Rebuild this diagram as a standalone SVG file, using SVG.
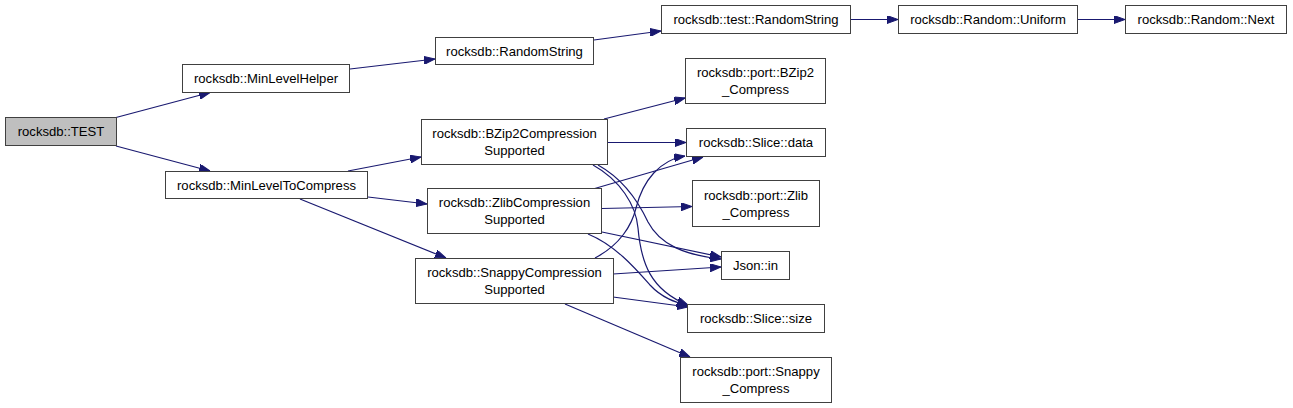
<svg xmlns="http://www.w3.org/2000/svg" width="1293" height="408" viewBox="0 0 1293 408">
<style>
.n rect{fill:#fff;stroke:#404040;stroke-width:1}
.n.f rect{fill:#bfbfbf}
.n text{font-family:"Liberation Sans",Arial,sans-serif;font-size:13.1px;fill:#000;text-anchor:middle}
.e path{fill:none;stroke:#191970;stroke-width:1.2;marker-end:url(#ah)}
</style>
<defs>
<marker id="ah" viewBox="0 0 11 8" refX="11" refY="4" markerWidth="11" markerHeight="8" markerUnits="userSpaceOnUse" orient="auto">
<path d="M0,0 L11,4 L0,8 Z" fill="#191970" stroke="#191970" stroke-width="1"/>
</marker>
</defs>
<rect width="1293" height="408" fill="#fff"/>
<g id="connectors" class="e">
<path d="M116,117.5 L210,92.5"/>
<path d="M116,146 L210,171"/>
<path d="M350,69 L435,59"/>
<path d="M594,40 L661,31"/>
<path d="M851,19.5 L898,19.5"/>
<path d="M1077,19.5 L1125,19.5"/>
<path d="M348,171 L421,157"/>
<path d="M368,197 L427,204"/>
<path d="M300,199 L446,258"/>
<path d="M604,119 L685,98"/>
<path d="M608,142.5 L686,142.5"/>
<path d="M598,165 C625,180 640,205 648,222 C660,245 685,255 721,259"/>
<path d="M593,165 C620,180 636,205 638,228 C641,262 650,290 688,305"/>
<path d="M593,189 L703,157"/>
<path d="M602,208.5 L692,206.5"/>
<path d="M602,232 L721,257"/>
<path d="M588,234 C615,245 635,268 650,285 C662,298 675,302 688,306"/>
<path d="M595,258 C620,245 632,225 636,208 C643,180 660,160 685,156"/>
<path d="M613,274 L721,267"/>
<path d="M613,297 L688,307"/>
<path d="M565,304 L690,357"/>
</g>
<g id="n_test" class="n f"><rect x="5.5" y="117.5" width="111" height="28"/><text x="61" y="136">rocksdb::TEST</text></g>
<g id="n_minlevelhelper" class="n"><rect x="182.5" y="64.5" width="167" height="28"/><text x="266" y="83">rocksdb::MinLevelHelper</text></g>
<g id="n_minleveltocompress" class="n"><rect x="165.5" y="171.5" width="202" height="27"/><text x="266.5" y="189.5">rocksdb::MinLevelToCompress</text></g>
<g id="n_randomstring" class="n"><rect x="435.5" y="37.5" width="158" height="27"/><text x="514.5" y="55.5">rocksdb::RandomString</text></g>
<g id="n_test_randomstring" class="n"><rect x="661.5" y="5.5" width="189" height="28"/><text x="756" y="24">rocksdb::test::RandomString</text></g>
<g id="n_uniform" class="n"><rect x="898.5" y="5.5" width="179" height="28"/><text x="988" y="24">rocksdb::Random::Uniform</text></g>
<g id="n_next" class="n"><rect x="1125.5" y="5.5" width="161" height="28"/><text x="1206" y="24">rocksdb::Random::Next</text></g>
<g id="n_bzip2_compress" class="n"><rect x="685.5" y="58.5" width="140" height="45"/><text x="755.5" y="77">rocksdb::port::BZip2</text><text x="755.5" y="94">_Compress</text></g>
<g id="n_bzip2supported" class="n"><rect x="421.5" y="119.5" width="186" height="45"/><text x="514.5" y="138">rocksdb::BZip2Compression</text><text x="514.5" y="155">Supported</text></g>
<g id="n_slice_data" class="n"><rect x="686.5" y="128.5" width="139" height="28"/><text x="756" y="147">rocksdb::Slice::data</text></g>
<g id="n_zlibsupported" class="n"><rect x="427.5" y="188.5" width="174" height="45"/><text x="514.5" y="207">rocksdb::ZlibCompression</text><text x="514.5" y="224">Supported</text></g>
<g id="n_zlib_compress" class="n"><rect x="692.5" y="180.5" width="127" height="46"/><text x="756" y="199.5">rocksdb::port::Zlib</text><text x="756" y="216.5">_Compress</text></g>
<g id="n_snappysupported" class="n"><rect x="415.5" y="258.5" width="198" height="45"/><text x="514.5" y="277">rocksdb::SnappyCompression</text><text x="514.5" y="294">Supported</text></g>
<g id="n_json_in" class="n"><rect x="721.5" y="251.5" width="68" height="28"/><text x="755.5" y="270">Json::in</text></g>
<g id="n_slice_size" class="n"><rect x="687.5" y="304.5" width="137" height="28"/><text x="756" y="323">rocksdb::Slice::size</text></g>
<g id="n_snappy_compress" class="n"><rect x="680.5" y="357.5" width="151" height="45"/><text x="756" y="376">rocksdb::port::Snappy</text><text x="756" y="393">_Compress</text></g>
</svg>
